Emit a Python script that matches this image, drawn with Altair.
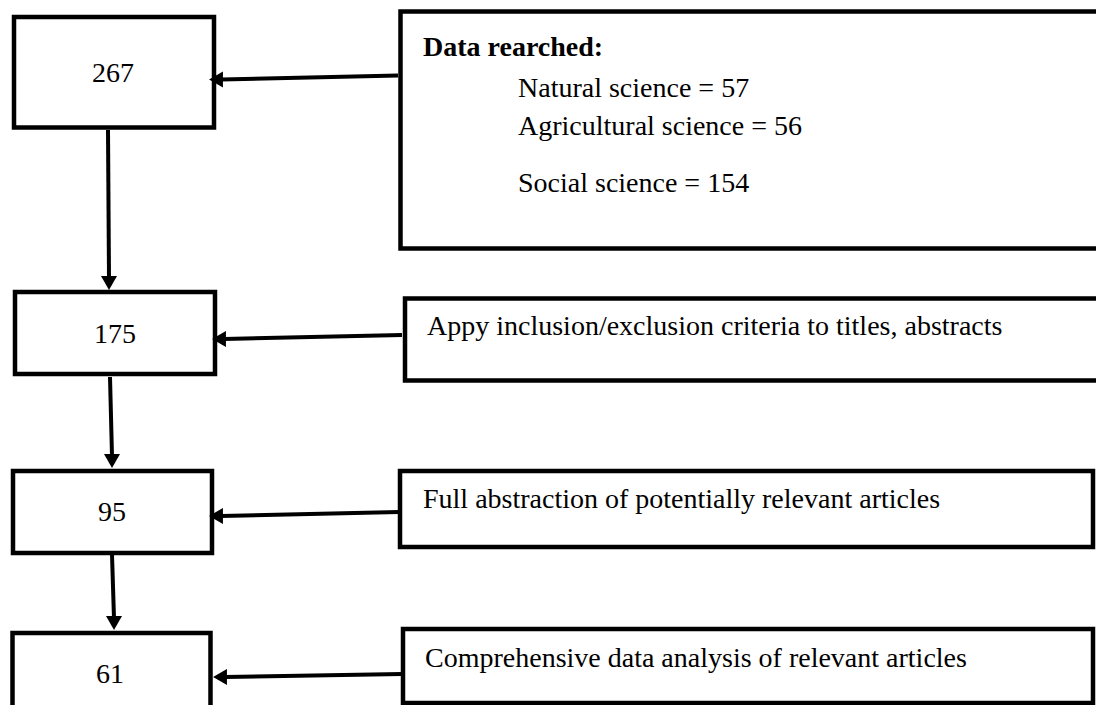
import altair as alt
import pandas as pd

# ---- content ----
count_labels = ["267", "175", "95", "61"]
step_texts = [
    "Appy inclusion/exclusion criteria to titles, abstracts",
    "Full abstraction of potentially relevant articles",
    "Comprehensive data analysis of relevant articles",
]
search_header = "Data rearched:"
search_fields = ["Natural science", "Agricultural science", "Social science"]
search_counts = [57, 56, 154]

# ---- layout (reference pixel coordinates) ----
cnt_x1 = [14, 15, 13, 12.5]
cnt_x2 = [214, 215, 212, 210.5]
cnt_y1 = [17, 292, 471, 633]
cnt_y2 = [127.5, 374, 553, 720]
cnt_tx = [113, 115, 112, 110]
cnt_ty = [74, 335, 513, 675]

desc_x1 = [400.5, 405, 400, 403]
desc_x2 = [1110, 1110, 1093, 1093]
desc_y1 = [11.5, 298.5, 471, 629]
desc_y2 = [248.5, 380.5, 547, 703]

# horizontal arrows: start (desc box edge) -> tip (count box edge)
h_x0 = [398, 402, 399, 402]
h_y0 = [75.5, 335, 512, 674]
h_xt = [209, 212, 209, 213]
h_yt = [79.5, 339, 516, 677]

# vertical arrows between count boxes
v_x0 = [108, 110, 112]
v_y0 = [130, 377, 555]
v_xt = [109, 112, 114]
v_yt = [290, 468, 630]

step_tx = [427, 423, 425]
step_ty = [335, 508, 667]
head_x, head_y = 423, 56
field_x = 518
field_y = [97, 135, 192]

FONT = "Liberation Serif"
FS = 28

xs = alt.Scale(domain=[8, 1096], nice=False, zero=False)
ys = alt.Scale(domain=[8, 705], nice=False, zero=False, reverse=True)


def X(f="x"):
    return alt.X(f"{f}:Q", scale=xs, axis=None)


def Y(f="y"):
    return alt.Y(f"{f}:Q", scale=ys, axis=None)


boxes = pd.DataFrame({
    "x": cnt_x1 + desc_x1,
    "x2": cnt_x2 + desc_x2,
    "y": cnt_y1 + desc_y1,
    "y2": cnt_y2 + desc_y2,
})
box_layer = alt.Chart(boxes).mark_rect(
    fill="white", stroke="black", strokeWidth=4.5, clip=True
).encode(x=X(), x2="x2:Q", y=Y(), y2="y2:Q")

# arrow shafts
shafts = pd.DataFrame({
    "x": h_x0 + v_x0,
    "y": h_y0 + v_y0,
    "x2": [t + 12 for t in h_xt] + v_xt,
    "y2": h_yt + [t - 12 for t in v_yt],
})
shaft_layer = alt.Chart(shafts).mark_rule(
    color="black", strokeWidth=4, clip=True
).encode(x=X(), y=Y(), x2="x2:Q", y2="y2:Q")

# arrow heads
heads_left = pd.DataFrame({"x": [t + 7 for t in h_xt], "y": h_yt})
heads_down = pd.DataFrame({"x": v_xt, "y": [t - 7 for t in v_yt]})
hl_layer = alt.Chart(heads_left).mark_point(
    shape="triangle-left", filled=True, color="black", size=256, opacity=1, strokeWidth=0
).encode(x=X(), y=Y())
hd_layer = alt.Chart(heads_down).mark_point(
    shape="triangle-down", filled=True, color="black", size=256, opacity=1, strokeWidth=0
).encode(x=X(), y=Y())

# count labels
cnt_df = pd.DataFrame({"x": cnt_tx, "y": cnt_ty, "t": count_labels})
cnt_layer = alt.Chart(cnt_df).mark_text(
    font=FONT, fontSize=FS, align="center", baseline="middle", color="black"
).encode(x=X(), y=Y(), text="t:N")

# step descriptions
step_df = pd.DataFrame({"x": step_tx, "y": step_ty, "t": step_texts})
step_layer = alt.Chart(step_df).mark_text(
    font=FONT, fontSize=FS, align="left", baseline="alphabetic", color="black"
).encode(x=X(), y=Y(), text="t:N")

# search header
head_df = pd.DataFrame({"x": [head_x], "y": [head_y], "t": [search_header]})
head_layer = alt.Chart(head_df).mark_text(
    font=FONT, fontSize=FS, fontWeight="bold", align="left", baseline="alphabetic", color="black"
).encode(x=X(), y=Y(), text="t:N")

field_df = pd.DataFrame({
    "x": [field_x] * len(search_fields),
    "y": field_y,
    "t": [f"{f} = {c}" for f, c in zip(search_fields, search_counts)],
})
field_layer = alt.Chart(field_df).mark_text(
    font=FONT, fontSize=FS, align="left", baseline="alphabetic", color="black"
).encode(x=X(), y=Y(), text="t:N")

chart = alt.layer(
    box_layer, shaft_layer, hl_layer, hd_layer,
    cnt_layer, step_layer, head_layer, field_layer,
).properties(
    width=1088, height=697, padding=0,
    autosize=alt.AutoSizeParams(type="none"),
    background="white",
).configure_view(stroke=None)

chart.save("out.html", embed_options={"renderer": "svg", "actions": False})
